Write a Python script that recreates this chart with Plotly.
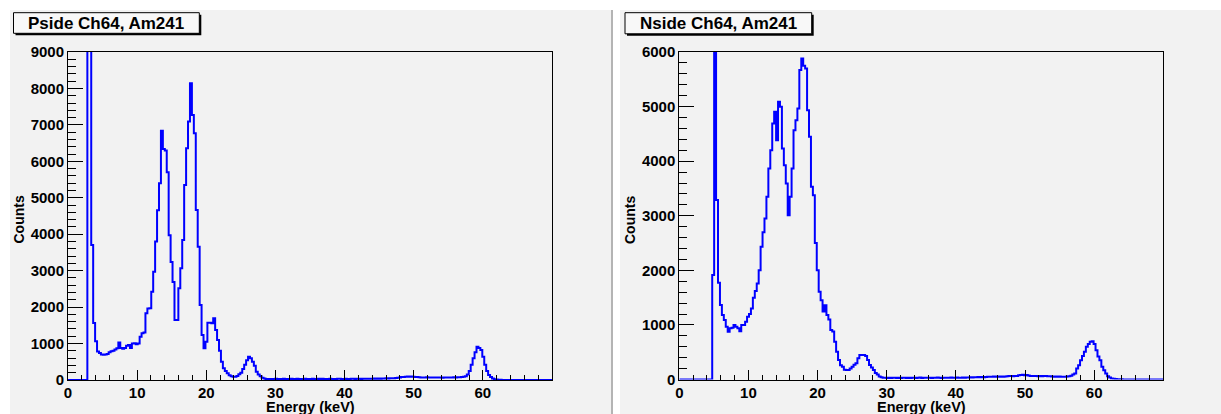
import plotly.graph_objects as go

W, H = 1221, 414

# ---------------- data ----------------
bin_width_kev = 0.28  # histogram bin width (keV), 250 bins from 0 keV

pside_counts = [
    0, 0, 0, 0, 0, 0, 0, 0, 0, 0,
    20000, 20000, 3704, 1564, 1060, 780, 740, 700, 690, 700,
    710, 760, 790, 800, 840, 870, 1030, 880, 860, 880,
    940, 960, 880, 1000, 1010, 980, 1000, 1190, 1280, 1300,
    1830, 1960, 1970, 2420, 2970, 3800, 4660, 5400, 6840, 6340,
    6300, 5700, 3970, 3240, 2690, 1646, 1646, 2515, 3064, 3842,
    5350, 6356, 7090, 8141, 7270, 6768, 4665, 3659, 2058, 1235,
    870, 1050, 1573, 1573, 1555, 1692, 1372, 1100, 800, 500,
    320, 250, 183, 130, 100, 91, 91, 110, 160, 200,
    300, 420, 540, 640, 600, 500, 390, 229, 150, 100,
    60, 40, 30, 25, 28, 30, 25, 32, 27, 30,
    26, 31, 29, 24, 30, 33, 27, 28, 31, 26,
    30, 29, 34, 27, 25, 30, 32, 28, 26, 31,
    29, 33, 27, 30, 28, 35, 30, 26, 29, 32,
    31, 28, 27, 33, 30, 29, 34, 31, 28, 36,
    32, 30, 35, 33, 31, 37, 34, 36, 38, 35,
    40, 37, 42, 39, 45, 43, 48, 46, 50, 55,
    60, 70, 80, 85, 90, 95, 90, 95, 90, 85,
    80, 75, 70, 72, 68, 74, 70, 66, 72, 69,
    71, 67, 70, 65, 68, 72, 66, 70, 68, 74,
    70, 75, 78, 82, 88, 100, 150, 250, 420, 600,
    760, 914, 880, 823, 640, 420, 250, 140, 80, 40,
    20, 12, 8, 5, 3, 2, 1, 0, 0, 0,
    0, 0, 0, 0, 0, 0, 0, 0, 0, 0,
    0, 0, 0, 0, 0, 0, 0, 0, 0, 0,
]

nside_counts = [
    0, 0, 0, 0, 0, 0, 0, 0, 0, 0,
    0, 0, 0, 0, 0, 0, 0, 1914, 15000, 3288,
    1773, 1365, 1182, 1090, 968, 876, 937, 950, 1000, 968,
    940, 884, 1000, 1000, 1060, 1150, 1200, 1300, 1500, 1620,
    1758, 2002, 2430, 2700, 2950, 3347, 3866, 4202, 4690, 4904,
    4385, 5087, 4995, 4232, 3927, 3591, 3010, 3347, 3866, 4568,
    4750, 4965, 5669, 5883, 5750, 5700, 4935, 4446, 3530, 3377,
    2500, 2003, 1606, 1450, 1245, 1362, 1180, 1100, 907, 880,
    693, 510, 357, 260, 235, 180, 174, 174, 200, 235,
    270, 296, 388, 449, 449, 449, 430, 357, 266, 220,
    174, 120, 90, 55, 40, 33, 30, 28, 32, 27,
    30, 33, 29, 31, 28, 34, 30, 27, 32, 29,
    33, 30, 28, 31, 35, 29, 32, 30, 34, 31,
    28, 33, 30, 36, 32, 29, 34, 31, 33, 30,
    35, 32, 30, 37, 33, 31, 36, 34, 38, 35,
    40, 37, 42, 39, 44, 41, 46, 43, 48, 50,
    52, 49, 54, 51, 53, 50, 55, 52, 56, 58,
    62, 64, 60, 66, 65, 78, 82, 85, 80, 84,
    72, 66, 64, 62, 65, 61, 64, 60, 63, 62,
    58, 60, 55, 52, 54, 50, 53, 51, 49, 52,
    55, 60, 70, 90, 110, 201, 260, 354, 430, 507,
    600, 650, 690, 700, 650, 537, 420, 354, 232, 170,
    110, 60, 37, 20, 12, 8, 5, 4, 3, 2,
    2, 1, 1, 0, 0, 0, 0, 0, 0, 0,
    0, 0, 0, 0, 0, 0, 0, 0, 0, 0,
]

panel_titles = ["Pside Ch64, Am241", "Nside Ch64, Am241"]
x_title = "Energy (keV)"
y_title = "Counts"
x_tick_values = [0, 10, 20, 30, 40, 50, 60]
pside_y_ticks = [0, 1000, 2000, 3000, 4000, 5000, 6000, 7000, 8000, 9000]
nside_y_ticks = [0, 1000, 2000, 3000, 4000, 5000, 6000]

# ---------------- helpers ----------------
def px(x):
    return x / W

def py(y):
    return 1 - y / H

PAD = "#f2f2f2"
BLUE = "#0000ff"
FONT = "Liberation Sans"


def hist_xy(counts):
    edges = [i * bin_width_kev for i in range(len(counts) + 1)]
    return edges, list(counts) + [counts[-1]]


fig = go.Figure()
for counts, xa, ya in [(pside_counts, "x", "y"), (nside_counts, "x2", "y2")]:
    ex, ey = hist_xy(counts)
    fig.add_trace(go.Scatter(x=ex, y=ey, mode="lines", line=dict(color=BLUE, width=2, shape="hv"),
                             xaxis=xa, yaxis=ya, showlegend=False, hoverinfo="skip"))

tickfont = dict(family=FONT, size=15, color="black", weight="bold")


def xaxis_cfg(d0, d1, anchor):
    return dict(domain=[px(d0), px(d1)], range=[0, 70], anchor=anchor, automargin=False,
                tickmode="array", tickvals=x_tick_values, ticklabelstandoff=-1,
                ticks="inside", ticklen=10, tickwidth=1, tickcolor="black",
                minor=dict(tickmode="linear", tick0=0, dtick=2, ticks="inside", ticklen=5,
                           tickwidth=1, tickcolor="black", showgrid=False),
                showline=True, linecolor="black", linewidth=1, mirror=True,
                showgrid=False, zeroline=False, tickfont=tickfont)


def yaxis_cfg(top, bottom, ymax, tvals, anchor):
    return dict(domain=[py(bottom), py(top)], range=[0, ymax], anchor=anchor, automargin=False,
                tickmode="array", tickvals=tvals,
                ticks="inside", ticklen=15, tickwidth=1, tickcolor="black",
                minor=dict(tickmode="linear", tick0=0, dtick=200, ticks="inside", ticklen=7.5,
                           tickwidth=1, tickcolor="black", showgrid=False),
                showline=True, linecolor="black", linewidth=1, mirror=True,
                showgrid=False, zeroline=False, tickfont=tickfont)


shapes = [
    # pads
    dict(type="rect", xref="paper", yref="paper", x0=px(10), x1=px(611), y0=py(414), y1=py(10),
         fillcolor=PAD, line=dict(width=0), layer="below"),
    dict(type="rect", xref="paper", yref="paper", x0=px(620), x1=px(1221), y0=py(414), y1=py(10),
         fillcolor=PAD, line=dict(width=0), layer="below"),
    dict(type="rect", xref="paper", yref="paper", x0=px(611), x1=px(613), y0=py(414), y1=py(10),
         fillcolor="#b4b4b4", line=dict(width=0), layer="below"),
]

boxes = [(13.5, 12.7, 199.3, 33.3), (625.0, 12.7, 811.7, 33.8)]
annotations = []
for (bx0, by0, bx1, by1), title in zip(boxes, panel_titles):
    shapes.append(dict(type="rect", xref="paper", yref="paper", x0=px(bx0 + 2), x1=px(bx1 + 2),
                       y0=py(by1 + 2), y1=py(by0 + 2), fillcolor="black", line=dict(width=0),
                       layer="below"))
    shapes.append(dict(type="rect", xref="paper", yref="paper", x0=px(bx0), x1=px(bx1),
                       y0=py(by1), y1=py(by0), fillcolor="#f8f8f8",
                       line=dict(color="black", width=1), layer="below"))
    annotations.append(dict(xref="paper", yref="paper", x=px((bx0 + bx1) / 2), y=py((by0 + by1) / 2),
                            text=title, showarrow=False, xanchor="center", yanchor="middle",
                            font=dict(family=FONT, size=17, color="black", weight="bold")))

for cx in (310, 921):
    annotations.append(dict(xref="paper", yref="paper", x=px(cx), y=py(407), text=x_title,
                            showarrow=False, xanchor="center", yanchor="middle",
                            font=dict(family=FONT, size=14.5, color="black", weight="bold")))
for cx in (18.5, 630):
    annotations.append(dict(xref="paper", yref="paper", x=px(cx), y=py(220), text=y_title,
                            showarrow=False, xanchor="center", yanchor="middle", textangle=-90,
                            font=dict(family=FONT, size=14, color="black", weight="bold")))

fig.update_layout(
    width=W, height=H, margin=dict(l=0, r=0, t=0, b=0, pad=0, autoexpand=False),
    paper_bgcolor="white", plot_bgcolor=PAD,
    xaxis=xaxis_cfg(68, 552, "y"),
    yaxis=yaxis_cfg(52, 380, 9000, pside_y_ticks, "x"),
    xaxis2=xaxis_cfg(679.3, 1163.3, "y2"),
    yaxis2=yaxis_cfg(52, 379.5, 6000, nside_y_ticks, "x2"),
    shapes=shapes, annotations=annotations, showlegend=False,
)

fig.write_html("out.html")
